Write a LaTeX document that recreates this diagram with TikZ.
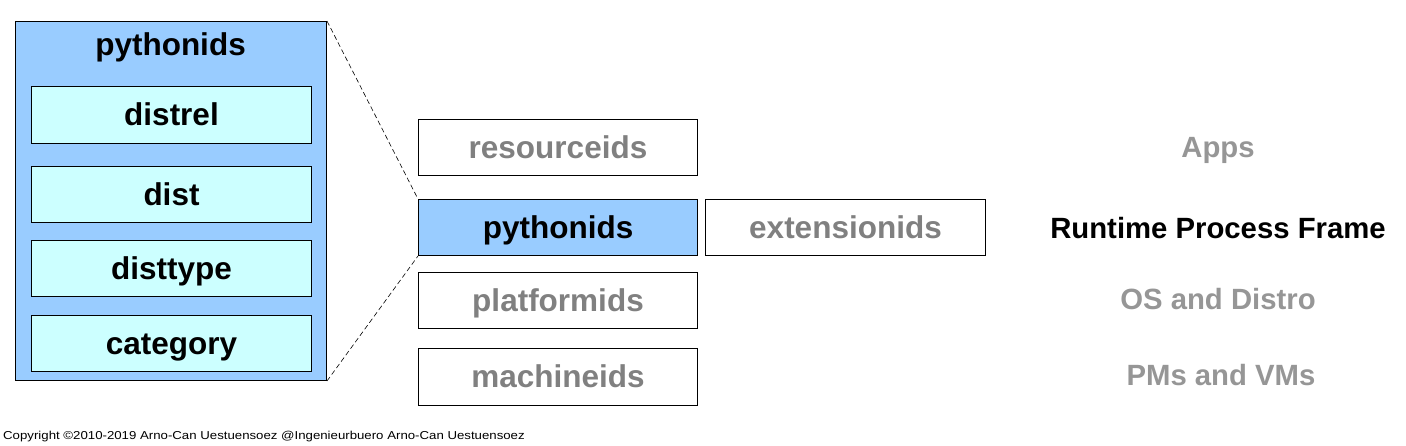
\documentclass[tikz,border=0pt]{standalone}
\usepackage{fontspec}
\setmainfont{Liberation Sans}
\definecolor{outerblue}{RGB}{153,204,255}
\definecolor{innercyan}{RGB}{204,255,255}
\definecolor{boxgray}{RGB}{128,128,128}
\definecolor{labelgray}{RGB}{150,150,150}
\tikzset{
  bigfont/.style={font=\fontsize{31.5}{33}\selectfont\bfseries, text height=23pt, text depth=2pt},
  labelfont/.style={font=\fontsize{29.3}{31}\selectfont\bfseries, text height=21pt, text depth=1pt},
  outerbox/.style={draw=black, line width=1pt, fill=outerblue, anchor=north west, inner sep=0pt},
  innerbox/.style={draw=black, line width=1pt, fill=innercyan, anchor=north west, minimum width=280pt, minimum height=57pt, inner sep=0pt, bigfont},
  layerbox/.style={draw=black, line width=1pt, fill=white, anchor=north west, minimum width=279pt, minimum height=56pt, inner sep=0pt, bigfont, text=boxgray},
  activebox/.style={layerbox, fill=outerblue, text=black},
  sidelabel/.style={labelfont, text=labelgray, inner sep=0pt},
  zoomline/.style={draw=black, line width=0.6pt, dash pattern=on 5pt off 3pt}
}
\begin{document}
\begin{tikzpicture}[x=1pt,y=-1pt]
\useasboundingbox (0,0) rectangle (1406,445);
% left detail box
\node[outerbox, minimum width=311pt, minimum height=359pt] (outer) at (15,21) {};
\node[bigfont, inner sep=0pt] (otitle) at (170.5,45) {pythonids};
\node[innerbox] (distrel) at (31,86) {distrel};
\node[innerbox, minimum height=56pt] (dist) at (31,166) {dist};
\node[innerbox, minimum height=56pt] (disttype) at (31,240) {disttype};
\node[innerbox, minimum height=56pt] (category) at (31,315) {category};
% layer stack
\node[layerbox] (res) at (418,119) {resourceids};
\node[activebox] (py) at (418,199) {pythonids};
\node[layerbox, minimum width=280pt] (ext) at (705,199) {extensionids};
\node[layerbox] (plat) at (418,272) {platformids};
\node[layerbox, minimum height=57pt] (mach) at (418,348) {machineids};
% zoom lines
\draw[zoomline] (outer.north east) -- (py.north west);
\draw[zoomline] (outer.south east) -- (py.south west);
% right side labels
\node[sidelabel] (apps) at (1218,147) {Apps};
\node[sidelabel, text=black] (rpf) at (1218,228) {Runtime Process Frame};
\node[sidelabel] (os) at (1218,299) {OS and Distro};
\node[sidelabel] (pm) at (1221,375) {PMs and VMs};
% copyright
\node[anchor=west, inner sep=0pt, font=\fontsize{11.5}{12}\selectfont] (copy) at (3,437) {\scalebox{1.15}[1]{Copyright \textcopyright2010-2019 Arno-Can Uestuensoez @Ingenieurbuero Arno-Can Uestuensoez}};
\end{tikzpicture}
\end{document}
